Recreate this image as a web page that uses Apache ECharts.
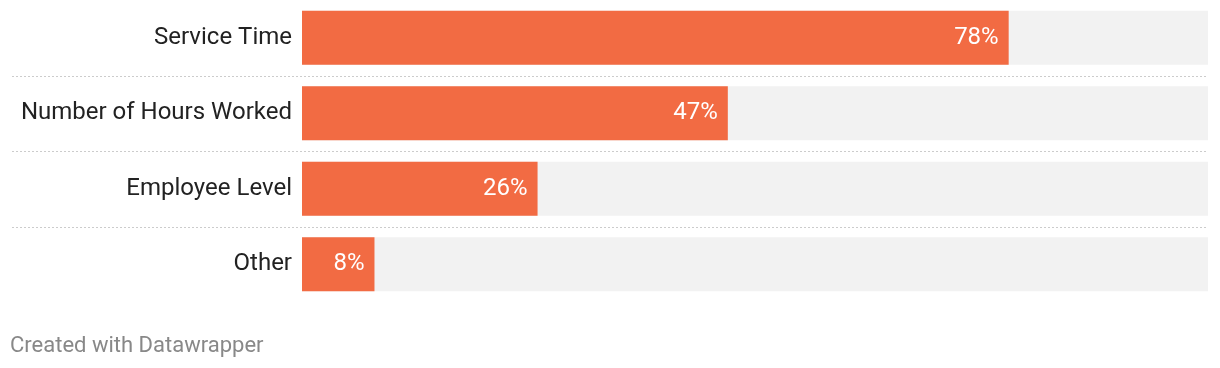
<!DOCTYPE html>
<html><head><meta charset="utf-8">
<script src="https://cdn.jsdelivr.net/npm/echarts@6/dist/echarts.min.js"></script>
<style>html,body{margin:0;padding:0;background:#fff}#c{width:1220px;height:368px}</style>
</head><body><div id="c"></div>
<script>
const categories = ['Service Time', 'Number of Hours Worked', 'Employee Level', 'Other'];
const values = [78, 47, 26, 8];
const axisMax = 100;

const chart = echarts.init(document.getElementById('c'), null, {renderer: 'canvas'});
const FONT = 'Roboto';
chart.setOption({
  animation: false,
  textStyle: {fontFamily: FONT},
  title: {
    text: 'Created with Datawrapper', left: 10, top: 335, padding: 0,
    textStyle: {fontFamily: FONT, fontSize: 22, fontWeight: 'normal', color: '#888888'}
  },
  grid: {left: 302, right: 12, top: -2, height: 304, containLabel: false},
  xAxis: {type: 'value', min: 0, max: axisMax, show: false},
  yAxis: {
    type: 'category', data: categories, inverse: true,
    axisLine: {show: false}, axisTick: {show: false}, splitLine: {show: false},
    axisLabel: {fontFamily: FONT, fontSize: 24, color: '#222222', margin: 10}
  },
  series: [
    {
      type: 'bar', data: values, barWidth: 54,
      itemStyle: {color: '#f26b43'},
      showBackground: true,
      backgroundStyle: {color: '#f2f2f2'},
      label: {
        show: true, position: 'insideRight', distance: 10,
        formatter: p => p.value + '%',
        fontFamily: FONT, fontSize: 24, color: '#ffffff'
      },
      z: 2
    },
    {
      type: 'custom',
      data: categories.slice(0, -1).map((c, i) => [i]),
      renderItem: (params, api) => {
        const i = api.value(0);
        const c = api.coord([axisMax, i]);
        const half = api.size([0, 1])[1] / 2;
        const y = Math.round(c[1] + half) + 0.5;
        return {
          type: 'line',
          shape: {x1: 12, y1: y, x2: c[0], y2: y},
          style: {stroke: '#cccccc', lineWidth: 1, lineDash: [2, 2]}
        };
      },
      z: 1, silent: true
    }
  ]
});
</script></body></html>
